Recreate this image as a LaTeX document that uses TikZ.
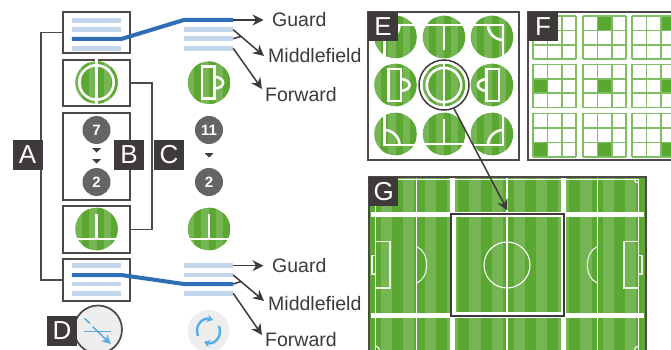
\documentclass[tikz,border=0pt]{standalone}
\usepackage{fontspec}
\setmainfont{Liberation Sans}
\usetikzlibrary{arrows.meta,calc}
\definecolor{ink}{HTML}{3E3A39}
\definecolor{frame}{HTML}{4C4948}
\definecolor{pdark}{HTML}{5AA832}
\definecolor{plight}{HTML}{76B553}
\definecolor{barlight}{HTML}{C3D6EB}
\definecolor{bardark}{HTML}{2F6DB5}
\definecolor{sky}{HTML}{55ADE3}
\definecolor{gridg}{HTML}{7FBE62}
\definecolor{discgrey}{HTML}{666464}
\definecolor{softgrey}{HTML}{EEEEEE}
\tikzset{
  panel/.style={draw=frame,line width=1.8pt,fill=white,inner sep=0pt,minimum width=#1},
  listbar/.style={fill=barlight,inner sep=0pt,minimum width=49pt,minimum height=4.6pt},
  conn/.style={draw=frame,line width=1.7pt},
  arrowline/.style={draw=ink,line width=1.5pt,-{Stealth[length=11pt,width=11pt]}},
  stub/.style={draw=ink,line width=1.5pt},
  blueroute/.style={draw=bardark,line width=4pt,line join=round},
  tag/.style={fill=ink,text=white,inner sep=0pt,minimum size=30pt,font=\fontsize{26}{26}\selectfont},
  caption/.style={text=ink,inner sep=0pt,anchor=west,font=\fontsize{19.5}{19.5}\selectfont},
  numdisc/.style={circle,fill=discgrey,text=white,inner sep=0pt,minimum size=28pt,font=\bfseries\fontsize{15}{15}\selectfont},
  tri/.style={fill=ink,draw=none},
  wl/.style={draw=white,line width=2.6pt},
  pitchline/.style={draw=white,line width=1.1pt},
  pitchbox/.style={draw=white!85!plight,line width=1.1pt},
  band/.style={draw=white,line width=5pt},
  gridline/.style={draw=gridg,line width=1.6pt},
}
% white strokes as filled bars: x1, y, x2 and x, y1, y2
\newcommand{\hbarw}[3]{\fill[white] (#1,#2-1.4) rectangle (#3,#2+1.4);}
\newcommand{\vbarw}[3]{\fill[white] (#1-1.4,#2) rectangle (#1+1.4,#3);}
% disc: centre x, y, white lines (white on the white panel beyond the rim)
\newcommand{\pitchdisc}[3]{%
  \begin{scope}[shift={(#1,#2)}]
    \begin{scope}
      \clip (0,0) circle[radius=21.3];
      \fill[plight] (-22,-22) rectangle (22,22);
      \fill[pdark] (-15,-22) rectangle (-8,22);
      \fill[pdark] (0,-22) rectangle (7,22);
      \fill[pdark] (14,-22) rectangle (21,22);
    \end{scope}
    #3
  \end{scope}}
\newcommand{\lnCentre}{\vbarw{0}{-23}{23}\draw[wl] (0,0) circle[radius=17.2];}
\newcommand{\lnTop}{\hbarw{-22}{-12}{22}\vbarw{0}{-12}{13}}
\newcommand{\lnBottom}{\hbarw{-22}{10}{22}\vbarw{0}{10}{-15}}
\newcommand{\lnLeft}{\draw[wl] (-7,-16) rectangle (5.5,16); \draw[wl] (5.5,-6) .. controls (17,-5) and (17,5) .. (5.5,6);}
\newcommand{\lnRight}{\draw[wl] (7,-16) rectangle (-5.5,16); \draw[wl] (-5.5,-6) .. controls (-17,-5) and (-17,5) .. (-5.5,6);}
\newcommand{\lnTL}{\vbarw{-11}{-13.4}{22}\hbarw{-12.4}{-12}{22}\draw[wl] (-11,3) .. controls (-3,3) and (4,-4) .. (4,-12);}
\newcommand{\lnTR}{\vbarw{11}{-13.4}{22}\hbarw{-22}{-12}{12.4}\draw[wl] (11,3) .. controls (3,3) and (-4,-4) .. (-4,-12);}
\newcommand{\lnBL}{\vbarw{-11}{-22}{12.4}\hbarw{-12.4}{11}{22}\draw[wl] (-11,-4) .. controls (-3,-4) and (4,3) .. (4,11);}
\newcommand{\lnBR}{\vbarw{11}{-22}{12.4}\hbarw{-22}{11}{12.4}\draw[wl] (11,-4) .. controls (3,-4) and (-4,3) .. (-4,11);}
% 3x3 grid: left, top, filled column, filled row
\newcommand{\minigrid}[4]{%
  \begin{scope}[shift={(#1,#2)}]
    \fill[pdark] (#3*14.4,#4*14.4) rectangle ++(14.4,14.4);
    \foreach \t in {0,14.4,28.8,43.2}{
      \draw[gridline] (\t,0) -- (\t,43.2);
      \draw[gridline] (0,\t) -- (43.2,\t);
    }
  \end{scope}}
\begin{document}
\begin{tikzpicture}[x=1pt,y=-1pt]
\clip (0,0) rectangle (671,350);
\fill[white] (0,0) rectangle (671,350);

% --- left column panels
\node[panel=67pt,minimum height=41pt] (listA) at (96.5,32.5) {};
\node[panel=67pt,minimum height=46pt] (fieldA) at (96.5,83) {};
\node[panel=67pt,minimum height=87pt] (numA) at (96.5,156.5) {};
\node[panel=67pt,minimum height=47pt] (fieldB) at (96.5,229.5) {};
\node[panel=67pt,minimum height=42pt] (listB) at (96.5,280) {};

\draw[conn] (listA.west) -- ++(-21,0) |- (listB.west);
\draw[conn] (fieldA.east) -- ++(21,0) |- (fieldB.east);

% top lists
\node[listbar] (a1) at (96.5,20.5) {};
\node[listbar] (a2) at (96.5,29.5) {};
\node[listbar] (a3) at (96.5,39) {};
\node[listbar] (a4) at (96.5,48.3) {};
\node[listbar] (ra1) at (208.5,20) {};
\node[listbar] (ra2) at (208.5,29.7) {};
\node[listbar] (ra3) at (208.5,38.7) {};
\node[listbar] (ra4) at (208.5,48.3) {};
\draw[blueroute] (a3.west) -- (a3.east) -- (ra1.west) -- (ra1.east);

% bottom lists
\node[listbar] (b1) at (96.5,265.7) {};
\node[listbar] (b2) at (96.5,275) {};
\node[listbar] (b3) at (96.5,284) {};
\node[listbar] (b4) at (96.5,293.3) {};
\node[listbar] (rb1) at (208.5,265.7) {};
\node[listbar] (rb2) at (208.5,275) {};
\node[listbar] (rb3) at (208.5,284) {};
\node[listbar] (rb4) at (208.5,293.3) {};
\draw[blueroute] (b2.west) -- (b2.east) -- (rb3.west) -- (rb3.east);

% captions and arrows
\node[caption] (g1) at (272,20) {Guard};
\node[caption] (m1) at (268,55.5) {Middlefield};
\node[caption] (f1) at (265,94.5) {Forward};
\node[caption] (g2) at (272,265.5) {Guard};
\node[caption] (m2) at (268,303.5) {Middlefield};
\node[caption] (f2) at (265,340) {Forward};
\coordinate (ta1) at (263.5,20);
\coordinate (ta2) at (264,56);
\coordinate (ta3) at (262,89);
\coordinate (tb1) at (263.5,265.7);
\coordinate (tb2) at (264,301);
\coordinate (tb3) at (262,335);
\draw[arrowline] (ra1.east) -- (ta1);
\draw[arrowline] (ra2.east) -- (ta2);
\draw[arrowline] (ra4.east) -- (ta3);
\draw[stub] (ra3.east) -- (241,36.5);
\draw[arrowline] (rb1.east) -- (tb1);
\draw[arrowline] (rb2.east) -- (tb2);
\draw[arrowline] (rb4.east) -- (tb3);
\draw[stub] (rb3.east) -- (241,281.5);

% discs
\pitchdisc{96.5}{82.5}{\lnCentre}
\pitchdisc{96.5}{229}{\lnBottom}
\pitchdisc{209}{82.7}{\lnLeft}
\pitchdisc{209}{229}{\lnBottom}

% numbers
\node[numdisc] (n7) at (96.5,130) {7};
\node[numdisc] (n2) at (96.5,182) {2};
\node[numdisc] (n11) at (209,130) {11};
\node[numdisc] (n2b) at (209,182) {2};
\fill[tri] (92,148) -- (101,148) -- (96.5,152.5) -- cycle;
\fill[tri] (92,159) -- (101,159) -- (96.5,163.5) -- cycle;
\fill[tri] (204.5,153) -- (213.5,153) -- (209,157.5) -- cycle;

% D icon
\node[circle,draw=frame,line width=1.7pt,fill=softgrey,minimum size=48pt,inner sep=0pt] (dring) at (98,329.5) {};
\draw[sky,line width=1.5pt] (84,331.7) -- (111,331.7);
\draw[sky,line width=1.5pt] (84.3,318.3) -- (90,323.3);
\draw[sky,line width=1.5pt,-{Stealth[length=9pt,width=9pt]}] (92.7,326.7) -- (110.7,344);
% refresh icon
\node[circle,fill=softgrey,minimum size=42pt,inner sep=0pt] (rring) at (208.5,331) {};
\draw[sky,line width=2.4pt,-{Stealth[length=6pt,width=8pt]}] (198,336) .. controls (194,325) and (203,317) .. (213,320);
\draw[sky,line width=2.4pt,-{Stealth[length=6pt,width=8pt]}] (219,326) .. controls (223,337) and (214,345) .. (204,342);

% tags on left
\node[tag] (tagA) at (27.5,155) {A};
\node[tag] (tagB) at (129,155) {B};
\node[tag] (tagC) at (169,155) {C};
\node[tag] (tagD) at (62,331) {D};

% --- panel E
\node[panel=151pt,minimum height=148pt] (panelE) at (443.5,86) {};
\pitchdisc{395.5}{37}{\lnTL}
\pitchdisc{444}{37}{\lnTop}
\pitchdisc{492}{37}{\lnTR}
\pitchdisc{395.5}{85}{\lnLeft}
\pitchdisc{444}{85}{\lnCentre}
\pitchdisc{492}{85}{\lnRight}
\pitchdisc{395.5}{134}{\lnBL}
\pitchdisc{444}{134}{\lnBottom}
\pitchdisc{492}{134}{\lnBR}
\node[circle,draw=ink,line width=1.5pt,minimum size=50pt,inner sep=0pt] (ring) at (444,85) {};
\node[tag,minimum size=29.5pt] (tagE) at (383,26.7) {E};

% --- panel F
\node[panel=170pt,minimum height=148pt] (panelF) at (613,86) {};
\foreach \c/\x in {0/533,1/583,2/632}{
  \minigrid{\x}{16}{\c}{0}
  \minigrid{\x}{64.5}{\c}{1}
  \minigrid{\x}{113.5}{\c}{2}
}
\node[tag,minimum size=29.5pt] (tagF) at (543,26.7) {F};

% --- panel G
\begin{scope}
  \clip (369,177) rectangle (646,352);
  \fill[plight] (369,177) rectangle (646,352);
  \foreach \k in {0,...,12}{\fill[pdark] ({369.5+22.2*\k},177) rectangle ++(11,176);}
  \draw[pitchline] (375.3,179.3) -- (638.7,179.3);
  \draw[pitchline] (375.3,179.3) -- (375.3,352);
  \draw[pitchline] (638.7,179.3) -- (638.7,352);
  \draw[pitchline] (507,177) -- (507,352);
  \draw[pitchline] (416.7,177) -- (416.7,352);
  \draw[pitchline] (597.3,177) -- (597.3,352);
  \draw[pitchbox] (375.3,241.7) rectangle (390,288);
  \draw[pitchbox] (375.3,255.7) rectangle (372,274);
  \draw[pitchbox] (638.7,241.7) rectangle (624,288);
  \draw[pitchbox] (638.7,255.7) rectangle (642,274);
  \draw[pitchbox] (416.7,246.7) .. controls (430,252) and (430,278) .. (416.7,283);
  \draw[pitchbox] (597.3,246.7) .. controls (584,252) and (584,278) .. (597.3,283);
  \draw[pitchline] (507,265) circle[radius=23];
  \draw[pitchline] (455,216.7) -- (561.7,216.7);
  \draw[pitchline] (455,313) -- (561.7,313);
  \draw[pitchline] (455,216.7) -- (455,313);
  \draw[pitchline] (561.7,216.7) -- (561.7,313);
  \draw[pitchline] (634.5,179.3) .. controls (634.5,181.5) and (636.5,183) .. (638.7,183);
  \draw[pitchline] (379.5,179.3) .. controls (379.5,181.5) and (377.5,183) .. (375.3,183);
  \draw[pitchline] (375.3,346) .. controls (377.5,346) and (379.5,348) .. (379.5,350);
  \draw[pitchline] (638.7,346) .. controls (636.5,346) and (634.5,348) .. (634.5,350);
  \draw[band] (371,214.3) -- (644,214.3);
  \draw[band] (371,315.3) -- (644,315.3);
  \draw[band] (452,177) -- (452,352);
  \draw[band] (563,177) -- (563,352);
\end{scope}
\node[draw=frame,line width=1.8pt,inner sep=0pt,minimum width=277pt,minimum height=190pt] (panelG) at (507.5,272) {};
\node[draw=ink,line width=2pt,inner sep=0pt,minimum width=113pt,minimum height=102pt] (focus) at (507.5,265) {};
\node[tag,minimum size=29.5pt] (tagG) at (383.7,191.7) {G};
\draw[arrowline] (ring.-67) -- ($(focus.north)+(0,-2.5)$);
\end{tikzpicture}
\end{document}
